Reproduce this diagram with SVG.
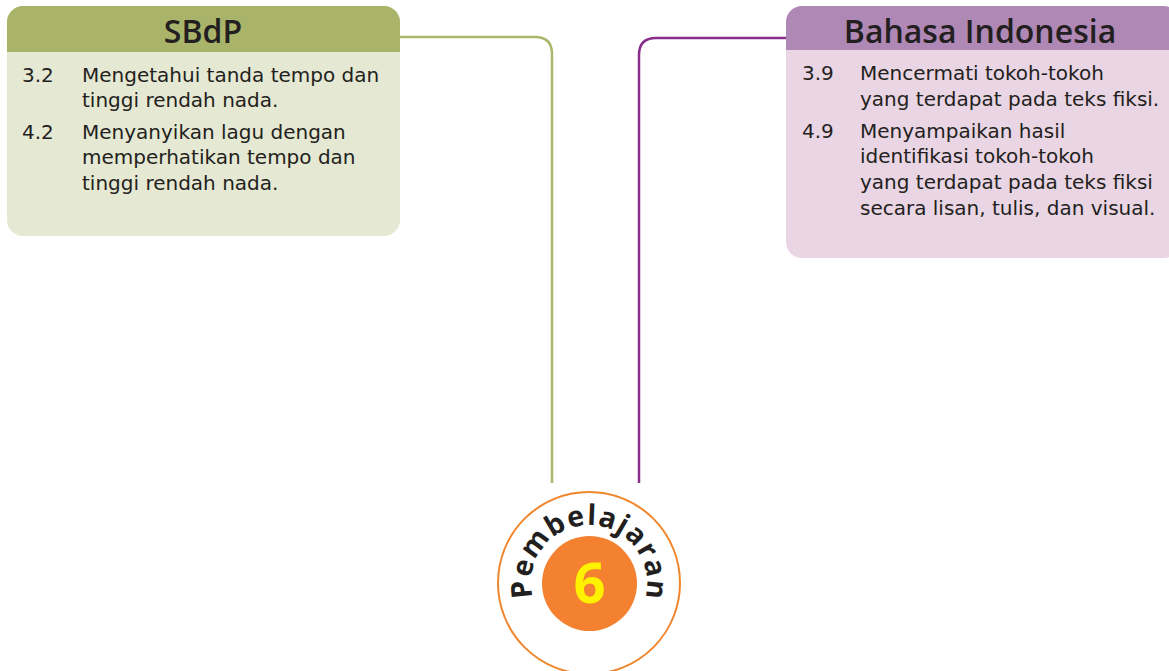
<svg xmlns="http://www.w3.org/2000/svg" width="1169" height="671" viewBox="0 0 1169 671">
<style>
.title{font-family:"Open Sans","Liberation Sans",sans-serif;font-size:32px;font-weight:600;fill:#231f20;text-anchor:middle}
.body{font-family:"DejaVu Sans","Liberation Sans",sans-serif;font-size:20px;fill:#231f20}
.conn{fill:none;stroke-width:2.5}
.ring{font-family:"Open Sans","Liberation Sans",sans-serif;font-size:28.5px;font-weight:700;fill:#231f20;text-anchor:middle}
</style>
<defs>
<clipPath id="c1"><rect x="7" y="6" width="393" height="230" rx="16"/></clipPath>
<clipPath id="c2"><rect x="786" y="6" width="393" height="252" rx="16"/></clipPath>
</defs>
<g id="connectors">
<path class="conn" stroke="#a9b86a" d="M400,37 H535 Q552,37 552,54 V483"/>
<path class="conn" stroke="#8a2e8c" d="M786,38 H656 Q639,38 639,55 V483"/>
</g>
<g id="sbdp">
<g clip-path="url(#c1)">
<rect x="7" y="6" width="393" height="230" fill="#e5e8d3"/>
<rect x="7" y="6" width="393" height="46" fill="#a9b46a"/>
</g>
<text class="title" x="203" y="43">SBdP</text>
<text class="body" x="22" y="82">3.2</text>
<text class="body" x="82" y="82">Mengetahui tanda tempo dan</text>
<text class="body" x="82" y="107">tinggi rendah nada.</text>
<text class="body" x="22" y="139">4.2</text>
<text class="body" x="82" y="139">Menyanyikan lagu dengan</text>
<text class="body" x="82" y="164">memperhatikan tempo dan</text>
<text class="body" x="82" y="190">tinggi rendah nada.</text>
</g>
<g id="bahasa">
<g clip-path="url(#c2)">
<rect x="786" y="6" width="393" height="252" fill="#e9d5e3"/>
<rect x="786" y="6" width="393" height="44" fill="#b088b5"/>
</g>
<text class="title" x="980" y="43">Bahasa Indonesia</text>
<text class="body" x="802" y="80">3.9</text>
<text class="body" x="860" y="80">Mencermati tokoh-tokoh</text>
<text class="body" x="860" y="106">yang terdapat pada teks fiksi.</text>
<text class="body" x="802" y="138">4.9</text>
<text class="body" x="860" y="138">Menyampaikan hasil</text>
<text class="body" x="860" y="163">identifikasi tokoh-tokoh</text>
<text class="body" x="860" y="189">yang terdapat pada teks fiksi</text>
<text class="body" x="860" y="215">secara lisan, tulis, dan visual.</text>
</g>
<g id="pembelajaran">
<circle cx="589" cy="583" r="91" fill="#fff" stroke="#f0862e" stroke-width="2"/>
<circle cx="589.5" cy="583.5" r="47.5" fill="#f4812f"/>
<text x="589.5" y="603" font-family="'Open Sans','Liberation Sans',sans-serif" font-size="56" font-weight="700" fill="#fff200" text-anchor="middle">6</text>
<text class="ring" x="589" y="525" transform="rotate(-95.6 589 583)">P</text>
<text class="ring" x="589" y="525" transform="rotate(-76.8 589 583)">e</text>
<text class="ring" x="589" y="525" transform="rotate(-53.8 589 583)">m</text>
<text class="ring" x="589" y="525" transform="rotate(-30.3 589 583)">b</text>
<text class="ring" x="589" y="525" transform="rotate(-11.6 589 583)">e</text>
<text class="ring" x="589" y="525" transform="rotate(2.4 589 583)">l</text>
<text class="ring" x="589" y="525" transform="rotate(16.4 589 583)">a</text>
<text class="ring" x="589" y="525" transform="rotate(30.4 589 583)">j</text>
<text class="ring" x="589" y="525" transform="rotate(44.5 589 583)">a</text>
<text class="ring" x="589" y="525" transform="rotate(60.6 589 583)">r</text>
<text class="ring" x="589" y="525" transform="rotate(76.8 589 583)">a</text>
<text class="ring" x="589" y="525" transform="rotate(95.6 589 583)">n</text>
</g>
</svg>
